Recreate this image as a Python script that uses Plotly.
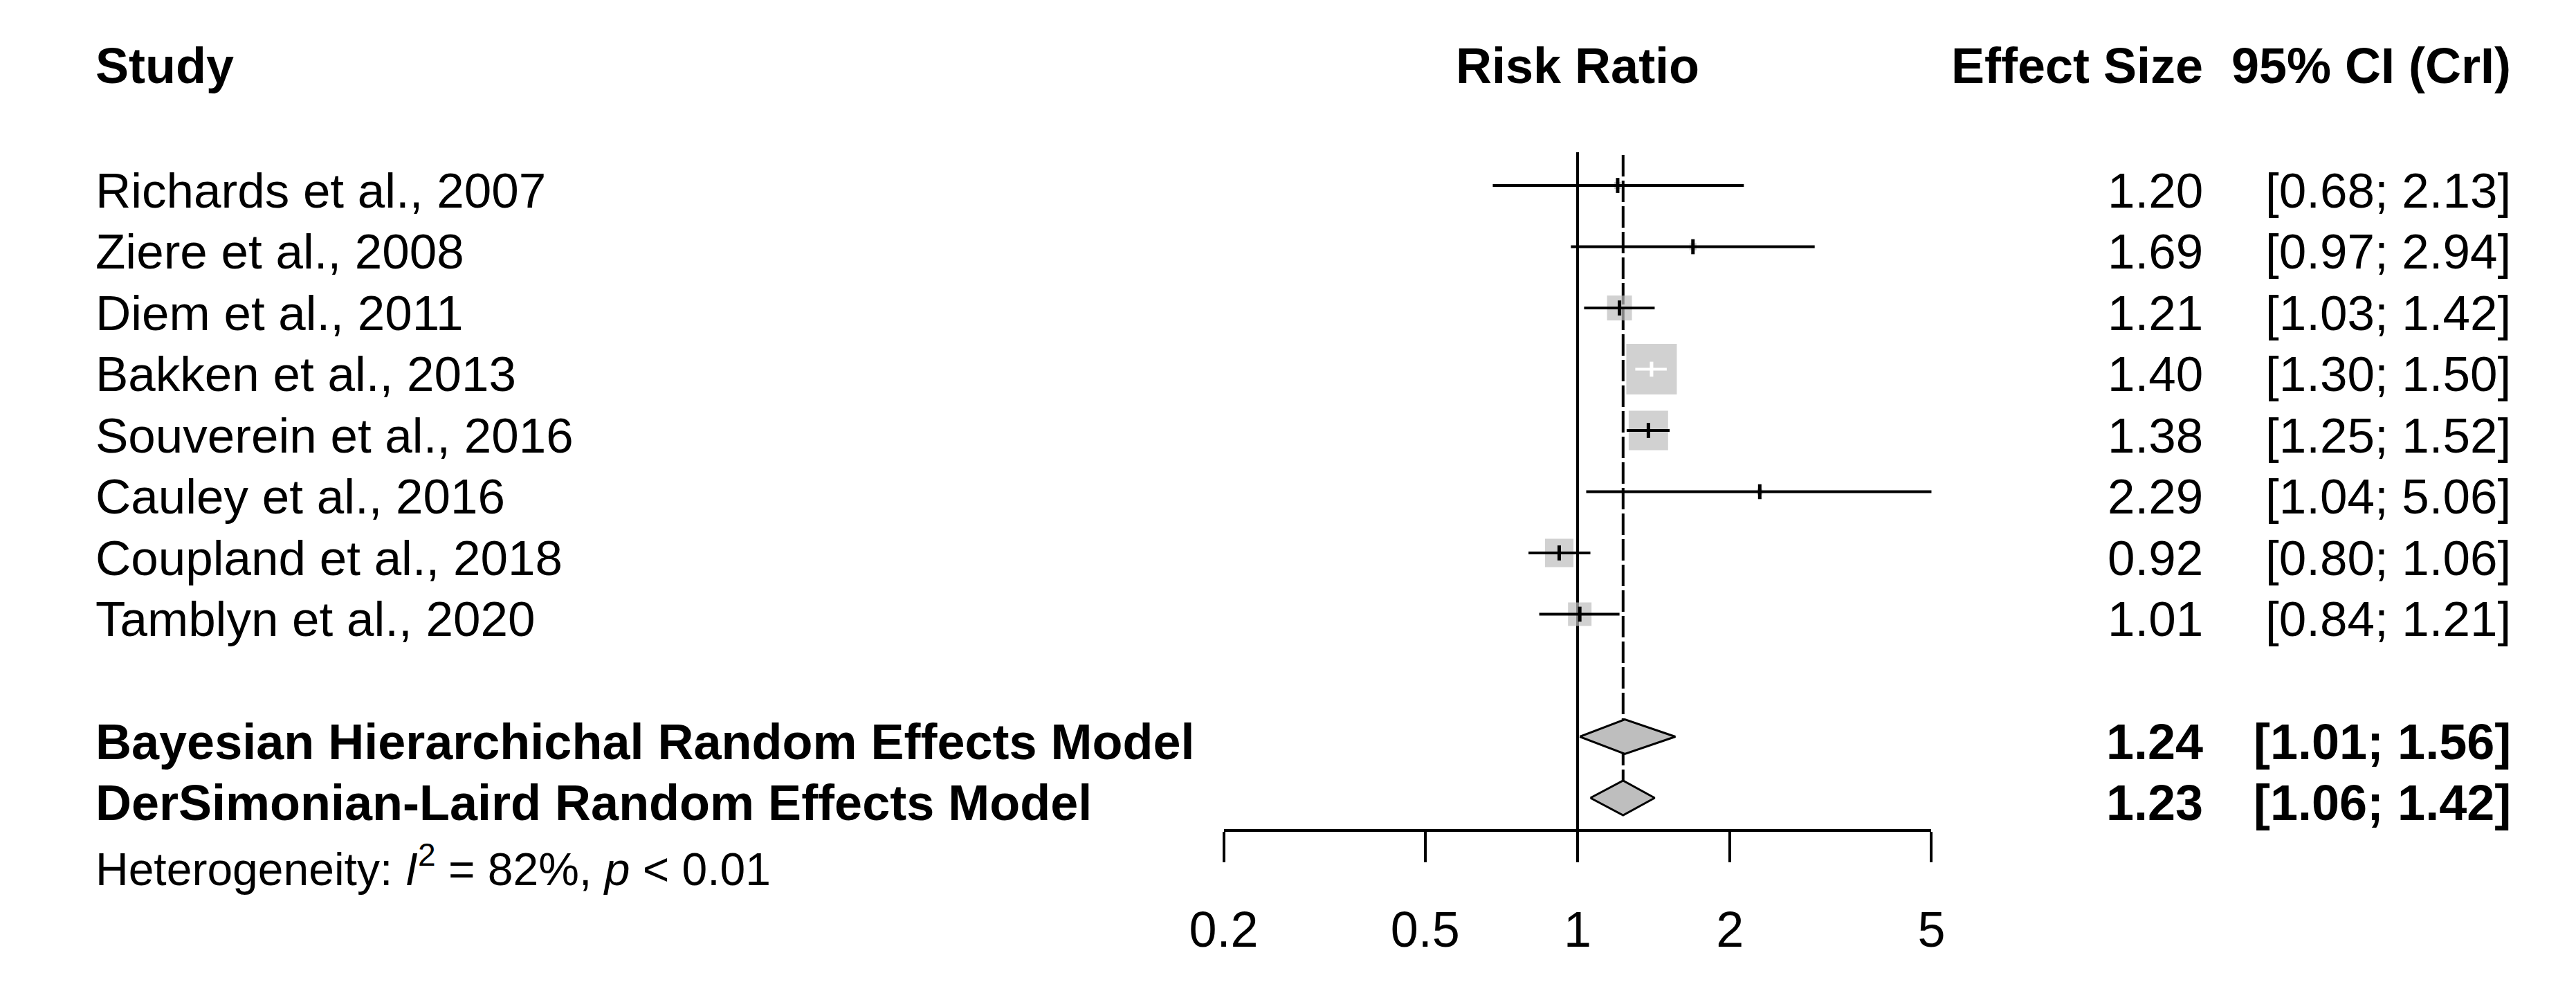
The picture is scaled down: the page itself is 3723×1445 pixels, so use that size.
import math
import plotly.graph_objects as go

# ---------------- data ----------------
studies = ["Richards et al., 2007", "Ziere et al., 2008", "Diem et al., 2011",
           "Bakken et al., 2013", "Souverein et al., 2016", "Cauley et al., 2016",
           "Coupland et al., 2018", "Tamblyn et al., 2020"]
rr = [1.20, 1.69, 1.21, 1.40, 1.38, 2.29, 0.92, 1.01]
ci_lo = [0.68, 0.97, 1.03, 1.30, 1.25, 1.04, 0.80, 0.84]
ci_hi = [2.13, 2.94, 1.42, 1.50, 1.52, 5.06, 1.06, 1.21]
weight_pct = [0.8, 0.8, 10.0, 41.1, 25.0, 0.5, 13.0, 8.9]

models = ["Bayesian Hierarchichal Random Effects Model",
          "DerSimonian-Laird Random Effects Model"]
model_rr = [1.24, 1.23]
model_lo = [1.01, 1.06]
model_hi = [1.56, 1.42]

tick_vals = [0.2, 0.5, 1, 2, 5]
tick_text = ["0.2", "0.5", "1", "2", "5"]
x_min, x_max = 0.2, 5
null_value = 1

hdr_study = "Study"
hdr_measure = "Risk Ratio"
hdr_effect = "Effect Size"
hdr_ci = "95% CI (CrI)"
het_text = "Heterogeneity: <i>I</i><sup>2</sup> = 82%, <i>p</i> &lt; 0.01"

# ---------------- layout geometry (pixels) ----------------
W, H = 3723, 1445
X0_PX, X1_PX = 1751.5, 2794.0
ROW0_PX, ROW_STEP = 268.0, 88.5
AXIS_PX = 1200.0
TEXT_LEFT = 88
EFFECT_RIGHT = 3196
CI_RIGHT = 3650
FONT = "Liberation Sans, Arial, sans-serif"
FS = 71
FS_BOLD = 72
GRAY = "#BEBEBE"
MAX_SQ = 73


def k_of(py):
    return 1 + (py - ROW0_PX) / ROW_STEP


def px(xp):
    return xp / W


def py(yp):
    return 1 - yp / H


ppu = (X1_PX - X0_PX) / (math.log10(x_max) - math.log10(x_min))
study_rows = list(range(1, len(studies) + 1))
model_rows = [len(studies) + 2 + i for i in range(len(models))]

fig = go.Figure()

# reference line at 1
fig.add_trace(go.Scatter(x=[null_value, null_value], y=[k_of(220), k_of(AXIS_PX)],
                         mode="lines", line=dict(color="black", width=4),
                         hoverinfo="skip", showlegend=False))

# dashed line at random effects estimate
diam_h = 25 / ROW_STEP
fig.add_trace(go.Scatter(x=[model_rr[1], model_rr[1]], y=[k_of(224), model_rows[1] - diam_h],
                         mode="lines", line=dict(color="black", width=4, dash="31px,6px"),
                         hoverinfo="skip", showlegend=False))

# squares
wmax = max(weight_pct)
sizes = [MAX_SQ * math.sqrt(w / wmax) for w in weight_pct]
fig.add_trace(go.Scatter(x=rr, y=study_rows, mode="markers",
                         marker=dict(symbol="square", size=sizes, color=GRAY,
                                     line=dict(width=0)),
                         hoverinfo="skip", showlegend=False))

# CI lines (white when inside square)
tick_colors = []
for i in range(len(studies)):
    half = sizes[i] / 2
    inside = ((math.log10(rr[i]) - math.log10(ci_lo[i])) * ppu < half and
              (math.log10(ci_hi[i]) - math.log10(rr[i])) * ppu < half)
    col = "white" if inside else "black"
    tick_colors.append(col)
    fig.add_trace(go.Scatter(x=[ci_lo[i], ci_hi[i]], y=[study_rows[i], study_rows[i]],
                             mode="lines", line=dict(color=col, width=4),
                             hoverinfo="skip", showlegend=False))

# estimate ticks
fig.add_trace(go.Scatter(x=rr, y=study_rows, mode="markers",
                         marker=dict(symbol="line-ns", size=15.5,
                                     line=dict(width=5, color=tick_colors)),
                         hoverinfo="skip", showlegend=False))

# diamonds
for j in range(len(models)):
    k = model_rows[j]
    fig.add_trace(go.Scatter(x=[model_lo[j], model_rr[j], model_hi[j], model_rr[j], model_lo[j]],
                             y=[k, k - diam_h, k, k + diam_h, k],
                             mode="lines", fill="toself", fillcolor=GRAY,
                             line=dict(color="black", width=3),
                             hoverinfo="skip", showlegend=False))

ann = []
TXT_SHIFT = -7


def add_text(text, x, y, xanchor, xref="paper", yref="paper", size=FS, yshift=0):
    ann.append(dict(text=text, x=x, y=y, xref=xref, yref=yref, xanchor=xanchor,
                    yanchor="middle", showarrow=False, yshift=yshift,
                    font=dict(family=FONT, size=size, color="black")))


# headers
HDR_Y = py(95)
add_text("<b>%s</b>" % hdr_study, px(TEXT_LEFT), HDR_Y, "left", size=FS_BOLD)
add_text("<b>%s</b>" % hdr_measure, math.log10(null_value), HDR_Y, "center", xref="x", size=FS_BOLD)
add_text("<b>%s</b>" % hdr_effect, px(EFFECT_RIGHT), HDR_Y, "right", size=FS_BOLD)
add_text("<b>%s</b>" % hdr_ci, px(CI_RIGHT), HDR_Y, "right", size=FS_BOLD)

# study rows
for i, s in enumerate(studies):
    k = study_rows[i]
    add_text(s, px(TEXT_LEFT), k, "left", yref="y", yshift=TXT_SHIFT)
    add_text("%.2f" % rr[i], px(EFFECT_RIGHT), k, "right", yref="y", yshift=TXT_SHIFT)
    add_text("[%.2f; %.2f]" % (ci_lo[i], ci_hi[i]), px(CI_RIGHT), k, "right",
             yref="y", yshift=TXT_SHIFT)

# model rows
for j, m in enumerate(models):
    k = model_rows[j]
    add_text("<b>%s</b>" % m, px(TEXT_LEFT), k, "left", yref="y", yshift=TXT_SHIFT, size=FS_BOLD)
    add_text("<b>%.2f</b>" % model_rr[j], px(EFFECT_RIGHT), k, "right", yref="y",
             yshift=TXT_SHIFT, size=FS_BOLD)
    add_text("<b>[%.2f; %.2f]</b>" % (model_lo[j], model_hi[j]), px(CI_RIGHT), k, "right",
             yref="y", yshift=TXT_SHIFT, size=FS_BOLD)

# heterogeneity
add_text(het_text, px(TEXT_LEFT), py(1251), "left", size=66)

k_top = k_of(0)
k_bot = k_of(H)

fig.update_layout(
    width=W, height=H, autosize=False,
    margin=dict(l=0, r=0, t=0, b=0, pad=0),
    paper_bgcolor="white", plot_bgcolor="white",
    showlegend=False,
    annotations=ann,
    xaxis=dict(type="log", range=[math.log10(x_min), math.log10(x_max)],
               domain=[X0_PX / W, X1_PX / W], anchor="free", position=1 - AXIS_PX / H,
               showline=True, linecolor="black", linewidth=4,
               ticks="outside", ticklen=44, tickwidth=4, tickcolor="black",
               tickvals=tick_vals, ticktext=tick_text,
               tickfont=dict(family=FONT, size=FS_BOLD, color="black"),
               ticklabelstandoff=36,
               showgrid=False, zeroline=False, fixedrange=True),
    yaxis=dict(range=[k_bot, k_top], domain=[0, 1], visible=False,
               showgrid=False, zeroline=False, fixedrange=True),
)

fig.write_html("out.html", config={"displayModeBar": False},
               post_script="document.body.style.margin='0';document.body.style.overflow='hidden';")
